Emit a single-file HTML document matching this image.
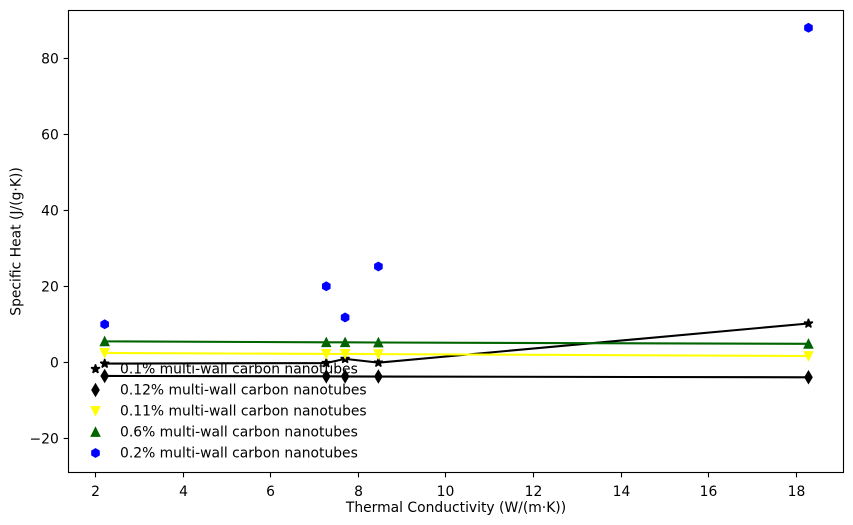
<!DOCTYPE html>
<html>
<head>
<meta charset="utf-8">
<title>Specific Heat vs Thermal Conductivity</title>
<style>
html,body{margin:0;padding:0;background:#fff;width:853px;height:525px;overflow:hidden}
svg{display:block}
text{font-family:"DejaVu Sans","Liberation Sans",sans-serif;font-size:13.89px;fill:#000}
</style>
</head>
<body>
<svg id="chart" width="853" height="525" viewBox="0 0 853 525" xmlns="http://www.w3.org/2000/svg"></svg>
<script>
const xValues = [2.21, 7.27, 7.7, 8.46, 18.28];
const star01Values = [-0.35, -0.2, 0.9, -0.1, 10.2];
const diamond012Values = [-3.6, -3.7, -3.72, -3.75, -3.95];
const yellow011Values = [2.45, 2.2, 2.2, 2.15, 1.65];
const green06Values = [5.5, 5.25, 5.25, 5.2, 4.85];
const blue02Values = [10, 20, 11.8, 25.2, 88];
const xTicks = [2, 4, 6, 8, 10, 12, 14, 16, 18];
const yTicks = [-20, 0, 20, 40, 60, 80];
const seriesLabels = ["0.1% multi-wall carbon nanotubes", "0.12% multi-wall carbon nanotubes", "0.11% multi-wall carbon nanotubes", "0.6% multi-wall carbon nanotubes", "0.2% multi-wall carbon nanotubes"];

const NS = 'http://www.w3.org/2000/svg';
const svg = document.getElementById('chart');
const plot = {left: 68.5, right: 843.5, top: 10.5, bottom: 472.5};
const xDomain = [1.384, 19.08];
const yDomain = [-29.0, 92.55];
function xScale(v) { return plot.left + (v - xDomain[0]) / (xDomain[1] - xDomain[0]) * (plot.right - plot.left); }
function yScale(v) { return plot.bottom - (v - yDomain[0]) / (yDomain[1] - yDomain[0]) * (plot.bottom - plot.top); }
function make(tag, attrs, parent) {
  const el = document.createElementNS(NS, tag);
  for (const k in attrs) el.setAttribute(k, attrs[k]);
  (parent || svg).appendChild(el);
  return el;
}
function polyPoints(pts, cx, cy) { return pts.map(p => (cx + p[0]).toFixed(2) + ',' + (cy + p[1]).toFixed(2)).join(' '); }
const S = 8.33, R = S / 2;
function starShape() {
  const pts = [];
  const outer = R * 1.12;
  for (let i = 0; i < 10; i++) {
    const r = i % 2 ? outer * 0.381966 : outer;
    const a = -Math.PI / 2 + i * Math.PI / 5;
    pts.push([r * Math.cos(a), r * Math.sin(a)]);
  }
  return pts;
}
function hexShape() {
  const pts = [];
  for (let i = 0; i < 6; i++) {
    const a = -Math.PI / 2 + i * Math.PI / 3;
    pts.push([R * Math.cos(a), R * Math.sin(a)]);
  }
  return pts;
}
const shapes = {
  star: starShape(),
  thinDiamond: [[0, -S * 0.7071], [S * 0.4243, 0], [0, S * 0.7071], [-S * 0.4243, 0]],
  down: [[-R, -R], [R, -R], [0, R]],
  up: [[-R, R], [R, R], [0, -R]],
  hex: hexShape()
};
function marker(shape, color, cx, cy, parent) {
  const join = shape === 'star' ? 'bevel' : (shape === 'hex' ? 'round' : 'miter');
  return make('polygon', {points: polyPoints(shapes[shape], cx, cy), fill: color, stroke: color, 'stroke-width': 1.39, 'stroke-linejoin': join}, parent);
}

const background = make('rect', {x: 0, y: 0, width: 853, height: 525, fill: '#fff'});



const seriesDefs = [
  {values: star01Values, color: '#000000', shape: 'star', line: true, name: 'series-0-1-percent'},
  {values: diamond012Values, color: '#000000', shape: 'thinDiamond', line: true, name: 'series-0-12-percent'},
  {values: yellow011Values, color: '#ffff00', shape: 'down', line: true, name: 'series-0-11-percent'},
  {values: green06Values, color: '#006400', shape: 'up', line: true, name: 'series-0-6-percent'},
  {values: blue02Values, color: '#0000ff', shape: 'hex', line: false, name: 'series-0-2-percent'}
];

seriesDefs.forEach(function (d) {
  const g = make('g', {});
  
  
  if (d.line) {
    const pts = d.values.map((v, i) => xScale(xValues[i]).toFixed(2) + ',' + yScale(v).toFixed(2)).join(' ');
    const line = make('polyline', {points: pts, fill: 'none', stroke: d.color, 'stroke-width': 2.08, 'stroke-linejoin': 'round'}, g);
    
    
  }
  d.values.forEach(function (v, i) {
    const m = marker(d.shape, d.color, xScale(xValues[i]), yScale(v), g);
    
    
  });
});

const frame = make('rect', {x: plot.left, y: plot.top, width: plot.right - plot.left, height: plot.bottom - plot.top, fill: 'none', stroke: '#000', 'stroke-width': 1.11});



xTicks.forEach(function (t) {
  const x = Math.floor(xScale(t)) + 0.5;
  const tick = make('line', {x1: x, x2: x, y1: plot.bottom, y2: plot.bottom + 4.86, stroke: '#000', 'stroke-width': 1.11});
  
  
  const label = make('text', {x: x, y: plot.bottom + 23.5, 'text-anchor': 'middle'});
  label.textContent = String(t);
  
  
});

yTicks.forEach(function (t) {
  const y = Math.round(yScale(t) - 0.5) + 0.5;
  const tick = make('line', {x1: plot.left - 4.86, x2: plot.left, y1: y, y2: y, stroke: '#000', 'stroke-width': 1.11});
  
  
  const label = make('text', {x: plot.left - 9.7, y: y + 5, 'text-anchor': 'end'});
  label.textContent = t < 0 ? '\u2212' + Math.abs(t) : String(t);
  
  
});

const xTitle = make('text', {x: (plot.left + plot.right) / 2, y: 512, 'text-anchor': 'middle'});
xTitle.textContent = 'Thermal Conductivity (W/(m\u00b7K))';



const yTitle = make('text', {x: 0, y: 0, 'text-anchor': 'middle', transform: 'translate(20.5 ' + ((plot.top + plot.bottom) / 2) + ') rotate(-90)'});
yTitle.textContent = 'Specific Heat (J/(g\u00b7K))';



const legend = make('g', {});


seriesDefs.forEach(function (d, i) {
  const y = 369 + i * 21;
  const entry = make('g', {}, legend);
  
  
  marker(d.shape, d.color, 95.5, y, entry);
  const label = make('text', {x: 120, y: y + 4.5}, entry);
  label.textContent = seriesLabels[i];
});
</script>
</body>
</html>
